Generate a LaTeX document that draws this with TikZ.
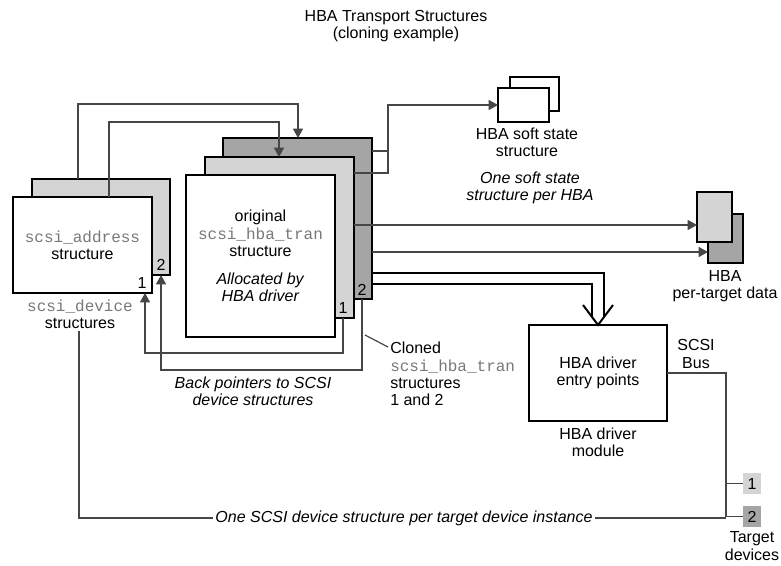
\documentclass[tikz,border=0pt]{standalone}
\usepackage{fontspec}
\setmainfont{Liberation Sans}
\newfontfamily\monofont{Liberation Mono}
\usetikzlibrary{arrows.meta,positioning,calc}
\definecolor{lightbox}{RGB}{212,212,212}
\definecolor{darkbox}{RGB}{165,165,165}
\definecolor{codegray}{RGB}{120,120,120}
\definecolor{wirecol}{RGB}{70,70,70}
\newcommand{\cname}[1]{{\monofont\color{codegray}#1}}

\begin{document}
\begin{tikzpicture}[x=0.75pt, y=-0.75pt,
    every node/.style={font=\fontsize{12}{13}\selectfont, inner sep=1.5pt},
    box/.style 2 args={rectangle, draw=black, line width=1.4pt, inner sep=0pt, outer sep=0pt, anchor=north west, minimum width=#1*0.75pt, minimum height=#2*0.75pt, align=center},
    devsq/.style={rectangle, inner sep=0pt, outer sep=0pt, anchor=north west, minimum width=18*0.75pt, minimum height=21*0.75pt},
    txt/.style={align=center},
    wire/.style={draw=wirecol, line width=0.9pt},
    ptr/.style={wire, -{Triangle[width=7.5pt,length=7pt]}},
    fat/.style={draw=black, line width=1.5pt}]

    \useasboundingbox (0,0) rectangle (781,565);

    % Title
    \node[txt] (title) at (396,26) {HBA Transport Structures\\(cloning example)};

    % scsi_device structures
    \node[box={138}{96}, fill=lightbox] (dev2) at (32,179) {};
    \node[box={139}{96}, fill=white] (dev1) at (13,197) {\cname{scsi\_address}\\structure};
    \node (dev1n) at (142,283) {1};
    \node (dev2n) at (161,265) {2};
    \node[txt] (devlbl) at (80,314) {\cname{scsi\_device}\\structures};

    % scsi_hba_tran structures
    \node[box={149}{161}, fill=darkbox] (tran2) at (223,138) {};
    \node[box={149}{161}, fill=lightbox] (tran1) at (205,157) {};
    \node[box={149}{162}, fill=white] (tran0) at (186,175) {original\\\cname{scsi\_hba\_tran}\\structure\\[8pt]\textit{Allocated by}\\\textit{HBA driver}};
    \node (tran1n) at (343,308) {1};
    \node (tran2n) at (362,290) {2};

    % HBA soft state
    \node[box={49}{34}, fill=white] (soft2) at (510,77) {};
    \node[box={51}{34}, fill=white] (soft1) at (498,88) {};
    \node[txt] (softlbl) at (527,142) {HBA soft state\\structure};
    \node[txt] (softnote) at (530,188) {\textit{One soft state}\\\textit{structure per HBA}};

    % HBA per-target data
    \node[box={35}{49}, fill=darkbox] (tgt2) at (708,214) {};
    \node[box={35}{50}, fill=lightbox] (tgt1) at (697,192) {};
    \node[txt] (tgtlbl) at (725,286) {HBA\\per-target data};

    % HBA driver module
    \node[box={138}{96}, fill=white] (drv) at (529,325) {HBA driver\\entry points};
    \node[txt] (drvlbl) at (598,442) {HBA driver\\module};
    \node[txt] (buslbl) at (696,354) {SCSI\\Bus};

    % Target devices
    \node[devsq, fill=lightbox] (tdev1) at (743,473) {1};
    \node[devsq, fill=darkbox] (tdev2) at (743,506) {2};
    \node[txt] (tdevlbl) at (752,546) {Target\\devices};

    % Labels
    \node[txt] (backlbl) at (253,391) {\textit{Back pointers to SCSI}\\\textit{device structures}};
    \node[align=left, anchor=west] (cloned) at (388,374) {Cloned\\\cname{scsi\_hba\_tran}\\structures\\1 and 2};
    \node (perdev) at (404,518) {\textit{One SCSI device structure per target device instance}};

    % Pointers to transport structures
    \draw[ptr] (dev2.north -| 78,0) |- (298,104) -- (tran2.north -| 298,0);
    \draw[ptr] (dev1.north -| 109,0) |- (279,122) -- (tran1.north -| 279,0);

    % Soft state
    \draw[wire] (tran2.east |- 0,151) -- (388,151);
    \draw[ptr] (tran1.east |- 0,173) -| (388,105) -- (soft1.west |- 0,105);

    % Per-target data
    \draw[ptr] (tran1.east |- 0,225) -- (tgt1.west |- 0,225);
    \draw[ptr] (tran2.east |- 0,252) -- (tgt2.west |- 0,252);

    % Entry points (hollow arrow)
    \draw[fat] (tran2.east |- 0,273) -| (604,317);
    \draw[fat] (tran2.east |- 0,284) -| (592,317);
    \draw[fat] (583,305) -- (drv.north -| 598,0) -- (613,305);

    % SCSI bus
    \draw[wire] (drv.east |- 0,373) -| (tdev2.west -| 726,0) -- (tdev2.west);
    \draw[wire] (tdev1.west -| 726,0) -- (tdev1.west);

    % One device structure per target
    \draw[wire] (devlbl.south -| 79,0) |- (perdev.west);
    \draw[wire] (perdev.east) -- (perdev.east -| 726,0);

    % Back pointers
    \draw[ptr] (tran1.south -| 343,0) |- (145,353) -- (dev1.south -| 145,0);
    \draw[ptr] (tran2.south -| 362,0) |- (161,370) -- (dev2.south -| 161,0);

    % Cloned leader
    \coordinate (clonetip) at (365,335);
    \draw[wire] (clonetip) -- (cloned.west |- 0,347);
\end{tikzpicture}
\end{document}
